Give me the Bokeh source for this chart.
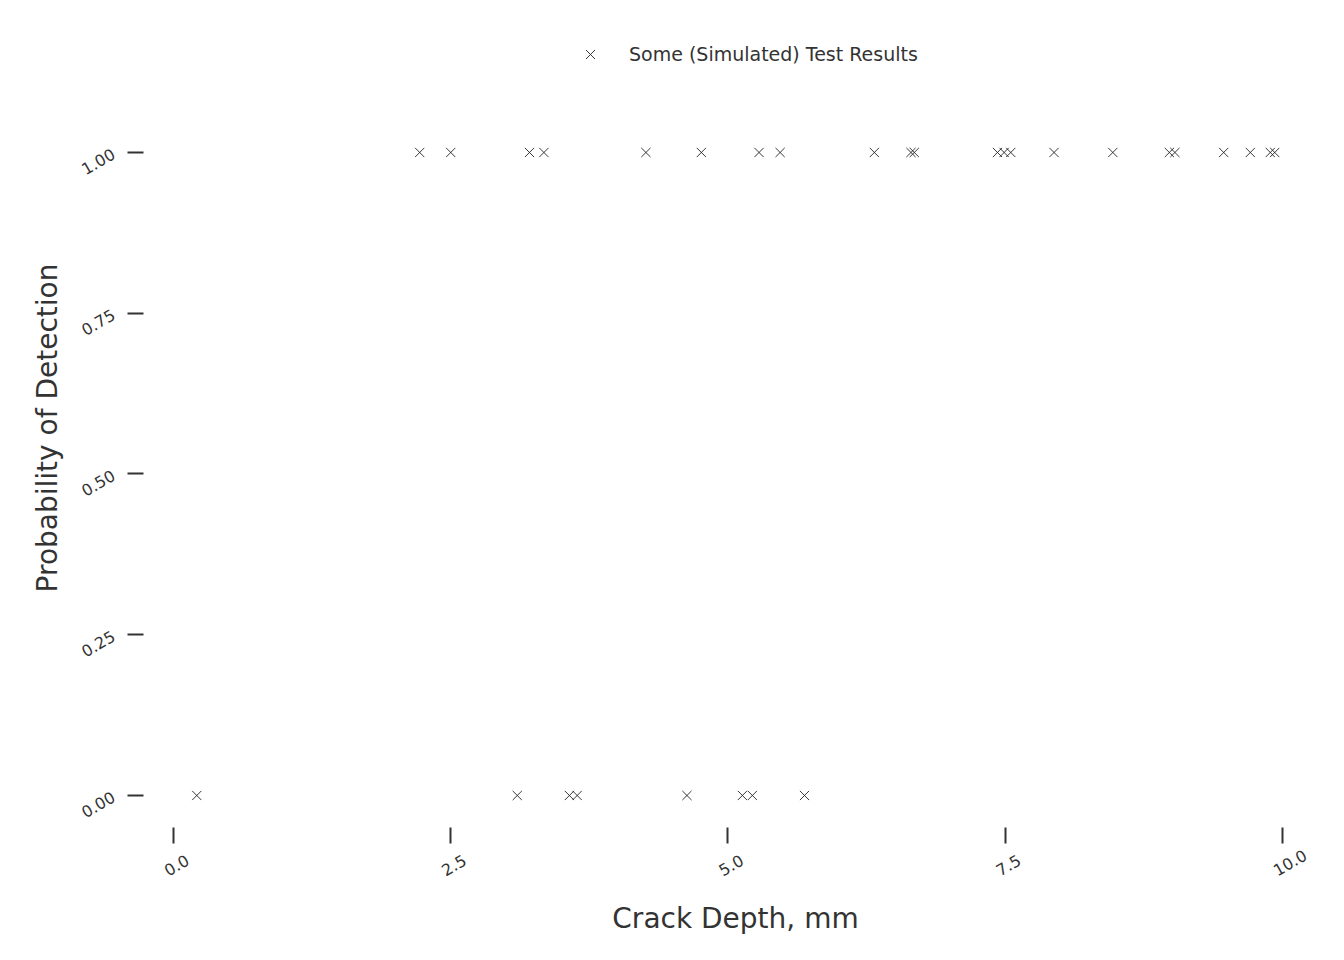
from bokeh.plotting import figure
from bokeh.models import (ColumnDataSource, FixedTicker, PrintfTickFormatter, CustomJSTickFormatter,
                          Range1d, LinearAxis, Legend, LegendItem)
from bokeh.embed import file_html
from bokeh.resources import INLINE
import math

# Data: detected (1) and missed (0) crack depths, mm
detected_depths = [2.22, 2.50, 3.21, 3.34, 4.26, 4.76, 5.28, 5.47, 6.32, 6.65, 6.68,
                   7.43, 7.49, 7.55, 7.94, 8.47, 8.98, 9.03, 9.47, 9.71, 9.89, 9.93]
missed_depths = [0.21, 3.10, 3.57, 3.64, 4.63, 5.13, 5.22, 5.69]
x_ticks = [0.0, 2.5, 5.0, 7.5, 10.0]
y_ticks = [0.0, 0.25, 0.5, 0.75, 1.0]
legend_label = "Some (Simulated) Test Results"
x_label = "Crack Depth, mm"
y_label = "Probability of Detection"

xs = detected_depths + missed_depths
ys = [1.0] * len(detected_depths) + [0.0] * len(missed_depths)
src = ColumnDataSource(dict(x=xs, y=ys))

FONT = "DejaVu Sans"
TXT = "#333333"

X0, X1 = -0.2705, 10.406
Y0, Y1 = -0.0498, 1.1928
FW, FH = 1184, 799
px_x = (X1 - X0) / FW

p = figure(width=1336, height=952, output_backend="svg", toolbar_location=None,
           x_range=Range1d(X0, X1), y_range=Range1d(Y0, Y1),
           frame_width=FW, frame_height=FH,
           min_border_left=143, min_border_right=9, min_border_top=28, min_border_bottom=125)
p.outline_line_color = None
p.xgrid.visible = False
p.ygrid.visible = False
p.background_fill_color = "white"
p.border_fill_color = "white"

r = p.scatter("x", "y", source=src, marker="x", size=13, line_color="#222222", line_width=0.9)

def style_ticks(ax, ticks):
    ax.ticker = FixedTicker(ticks=ticks)
    ax.axis_line_color = None
    ax.major_tick_in = 0
    ax.major_tick_out = 16
    ax.major_tick_line_color = TXT
    ax.major_tick_line_width = 2
    ax.minor_tick_line_color = None
    ax.major_label_text_font = FONT
    ax.major_label_text_font_size = "16px"
    ax.major_label_text_color = TXT
    ax.axis_label_text_font = FONT
    ax.axis_label_text_font_size = "28px"
    ax.axis_label_text_font_style = "normal"
    ax.axis_label_text_color = TXT

# y axis: ticks + rotated labels
yax = p.yaxis[0]
style_ticks(yax, y_ticks)
yax.formatter = PrintfTickFormatter(format="%.2f")
yax.major_label_orientation = math.pi / 6
yax.major_label_standoff = 14
yax.axis_label = y_label
yax.axis_label_standoff = 10

# x axis: tick marks only
xax = p.xaxis[0]
style_ticks(xax, x_ticks)
xax.formatter = CustomJSTickFormatter(code="return ''")
xax.major_label_standoff = 0

# second x axis carrying the rotated, centred tick labels and the axis title
p.extra_x_ranges = {"lab": Range1d(X0 + 8 * px_x, X1 + 8 * px_x)}
lax = LinearAxis(x_range_name="lab")
style_ticks(lax, x_ticks)
lax.formatter = PrintfTickFormatter(format="%.1f")
lax.major_tick_out = 0
lax.major_tick_line_color = None
lax.major_label_orientation = -11 * math.pi / 6
lax.major_label_standoff = 28
lax.axis_label = x_label
lax.axis_label_standoff = 20
p.add_layout(lax, "below")

legend = Legend(items=[LegendItem(label=legend_label, renderers=[r])],
                location=(431, 757), orientation="horizontal",
                background_fill_alpha=0, border_line_color=None,
                glyph_width=32, glyph_height=32, label_standoff=23, padding=0, margin=0,
                label_text_font=FONT, label_text_font_size="19px", label_text_color=TXT)
p.add_layout(legend, "center")

open("out.html", "w").write(file_html(p, INLINE))
